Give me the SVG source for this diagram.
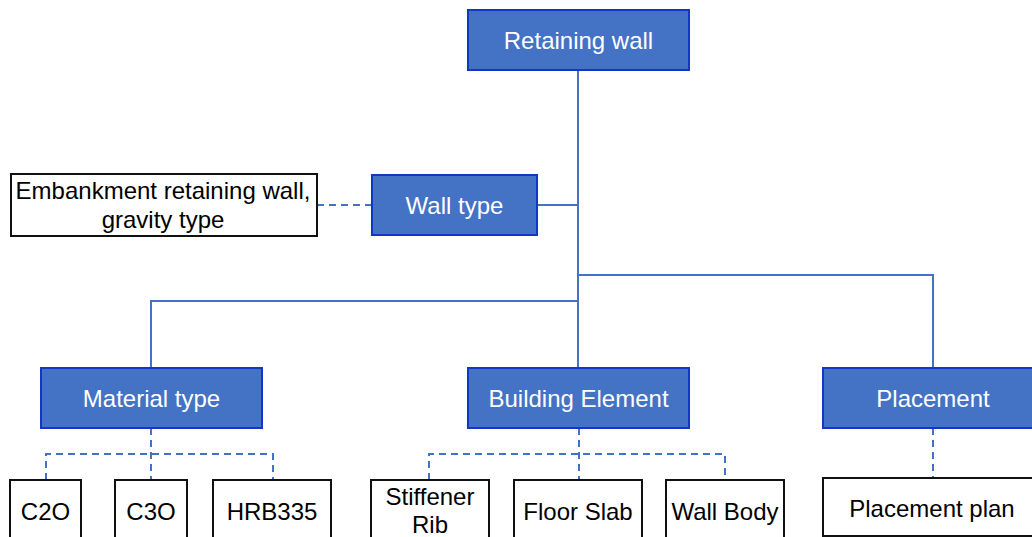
<svg xmlns="http://www.w3.org/2000/svg" width="1032" height="537" viewBox="0 0 1032 537">
  <style>
    .head rect { fill: #4472C4; stroke: #1237C6; stroke-width: 2; }
    .head text { fill: #FFFFFF; }
    .leaf rect { fill: #FFFFFF; stroke: #111111; stroke-width: 2; }
    .leaf text { fill: #000000; }
    text { font-family: "Liberation Sans", Arial, sans-serif; font-size: 24px; text-anchor: middle; dominant-baseline: central; }
    .solid { fill: none; stroke: #4472C4; stroke-width: 2; }
    .dash { fill: none; stroke: #4472C4; stroke-width: 2; stroke-dasharray: 7 5; }
  </style>
  <rect width="1032" height="537" fill="#FFFFFF"/>

  <!-- connectors -->
  <g id="connectors">
    <path class="solid" d="M578 70 V368"/>
    <path class="solid" d="M537 205 H578"/>
    <path class="solid" d="M578 275 H933 V368"/>
    <path class="solid" d="M578 301 H151 V368"/>
    <path class="dash" d="M317 205 H372"/>
    <path class="dash" d="M151 428 V480"/>
    <path class="dash" d="M46 480 V454 H273 V480"/>
    <path class="dash" d="M579 428 V480"/>
    <path class="dash" d="M429 480 V454 H725 V480"/>
    <path class="dash" d="M933 428 V478"/>
  </g>

  <!-- top level -->
  <g id="retaining-wall" class="head">
    <rect x="468" y="10" width="221" height="60"/>
    <text x="578.5" y="40">Retaining wall</text>
  </g>

  <g id="wall-type" class="head">
    <rect x="372" y="175" width="165" height="60"/>
    <text x="454.5" y="205">Wall type</text>
  </g>

  <g id="wall-type-value" class="leaf">
    <rect x="11" y="174" width="306" height="62"/>
    <text x="163" y="190">Embankment retaining wall,</text>
    <text x="163" y="219">gravity type</text>
  </g>

  <!-- second level -->
  <g id="material-type" class="head">
    <rect x="41" y="368" width="221" height="60"/>
    <text x="151.5" y="398">Material type</text>
  </g>

  <g id="building-element" class="head">
    <rect x="468" y="368" width="221" height="60"/>
    <text x="578.5" y="398">Building Element</text>
  </g>

  <g id="placement" class="head">
    <rect x="823" y="368" width="221" height="60"/>
    <text x="933" y="398">Placement</text>
  </g>

  <!-- leaves -->
  <g id="c20" class="leaf">
    <rect x="10" y="480" width="71" height="70"/>
    <text x="45.5" y="511">C2O</text>
  </g>

  <g id="c30" class="leaf">
    <rect x="115" y="480" width="72" height="70"/>
    <text x="151" y="511">C3O</text>
  </g>

  <g id="hrb335" class="leaf">
    <rect x="213" y="480" width="118" height="70"/>
    <text x="272" y="511">HRB335</text>
  </g>

  <g id="stiffener-rib" class="leaf">
    <rect x="371" y="480" width="118" height="70"/>
    <text x="430" y="496">Stiffener</text>
    <text x="430" y="524">Rib</text>
  </g>

  <g id="floor-slab" class="leaf">
    <rect x="514" y="480" width="128" height="70"/>
    <text x="578" y="511">Floor Slab</text>
  </g>

  <g id="wall-body" class="leaf">
    <rect x="666" y="480" width="118" height="70"/>
    <text x="725" y="511">Wall Body</text>
  </g>

  <g id="placement-plan" class="leaf">
    <rect x="823" y="478" width="221" height="58"/>
    <text x="932" y="508">Placement plan</text>
  </g>
</svg>
